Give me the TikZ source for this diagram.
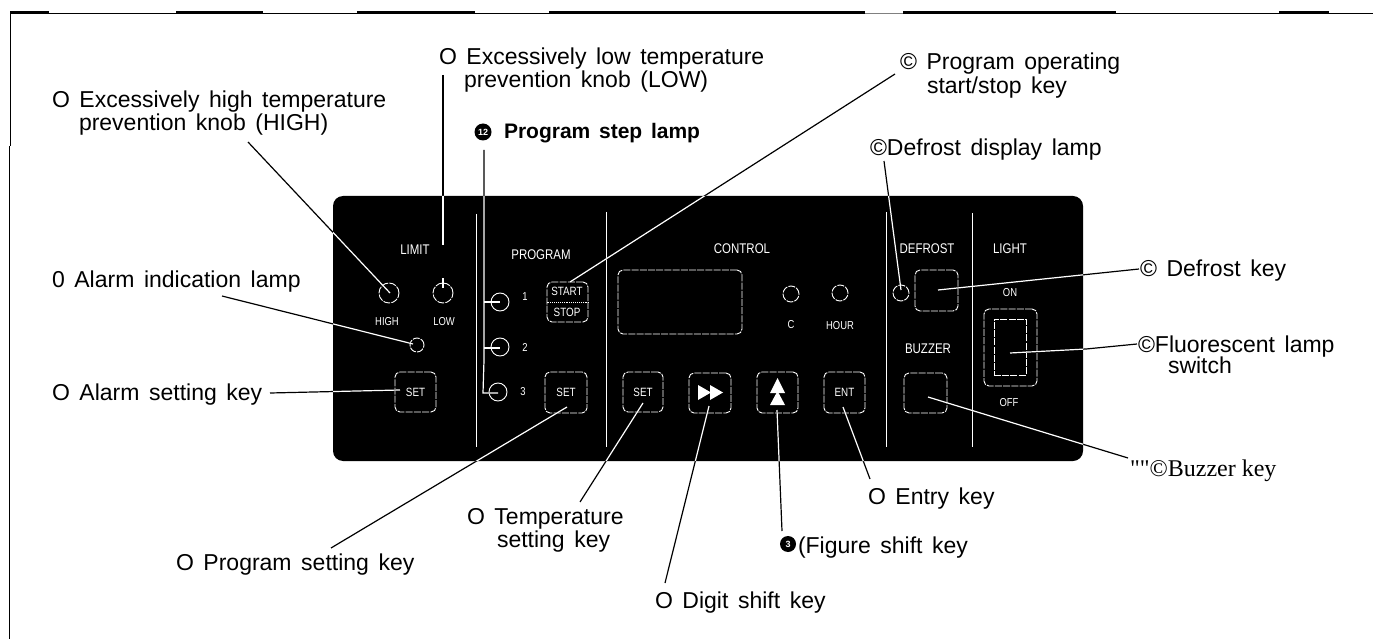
\documentclass[tikz,border=0pt]{standalone}
\usepackage{fontspec}
\setmainfont[WordSpace=1.5]{Liberation Sans}
\newfontfamily\panelfont[FakeStretch=0.82]{Liberation Sans}
\newfontfamily\timesfont{Liberation Serif}
\tikzset{
  lbl/.style={anchor=base west,inner sep=0pt,outer sep=0pt,font=\fontsize{23}{25}\selectfont,text=black},
  wht/.style={draw=white,line width=0.9pt,dash pattern=on 7pt off 1.2pt},
  keybox/.style={wht,rounded corners=5pt},
  lamp/.style={wht,circle,inner sep=0pt,minimum size=#1},
  ptxt/.style={inner sep=0pt,text=white,font=\panelfont\fontsize{14}{14}\selectfont},
  pkey/.style={inner sep=0pt,text=white,font=\panelfont\fontsize{12}{12}\selectfont},
  psmall/.style={inner sep=0pt,text=white,font=\panelfont\fontsize{11.5}{11.5}\selectfont},
  lead/.style={draw=black,line width=1.2pt},
  leadw/.style={draw=white,line width=1.2pt},
  divider/.style={draw=white,line width=0.9pt},
  tri/.style={fill=white,draw=none},
  blob/.style={fill=black,circle,inner sep=0pt,text=white,font=\bfseries\fontsize{9}{9}\selectfont}
}
\newcommand{\leader}[1]{%
  \draw[lead] #1;
  \begin{scope}
    \clip[rounded corners=10pt] (333,196) rectangle (1083,461);
    \draw[leadw] #1;
  \end{scope}}
\begin{document}
\begin{tikzpicture}[x=1pt,y=-1pt]
\useasboundingbox (0,0) rectangle (1373,639);
\fill[white] (0,0) rectangle (1373,639);
% frame
\draw[black,line width=0.9pt] (10,13) -- (865,13) (903,13) -- (1373,13);
\draw[black!50,line width=0.6pt] (865,13) -- (903,13);
\draw[black,line width=2pt] (10,12.5) -- (49,12.5) (176,12.5) -- (263,12.5) (357,12.5) -- (475,12.5) (549,12.5) -- (865,12.5) (903,12.5) -- (1116,12.5) (1279,12.5) -- (1329,12.5);
\draw[black,line width=0.8pt] (10.5,13) -- (10.5,146) (9.5,146) -- (9.5,639);
% panel
\fill[black,rounded corners=10pt] (333,196) rectangle (1083,461);
% dividers
\draw[divider] (476,214) -- (476,447);
\draw[divider] (606,212) -- (606,447);
\draw[divider] (886,212) -- (886,447);
\draw[divider] (972,213) -- (972,447);
% panel captions
\node[ptxt] (tLimit) at (415,250) {LIMIT};
\node[ptxt] (tProg) at (541,255) {PROGRAM};
\node[ptxt] (tControl) at (742,249) {CONTROL};
\node[ptxt] (tDefrost) at (927,249) {DEFROST};
\node[ptxt] (tLight) at (1010,249) {LIGHT};
\node[psmall] (tHigh) at (387,322) {HIGH};
\node[psmall] (tLow) at (444,322) {LOW};
\node[psmall] (tC) at (791,325) {C};
\node[psmall] (tHour) at (840,326) {HOUR};
\node[psmall] (tOn) at (1010,293) {ON};
\node[psmall] (tOff) at (1009,403) {OFF};
\node[ptxt] (tBuzzer) at (928,349) {BUZZER};
\node[psmall] (n1) at (525,297) {1};
\node[psmall] (n2) at (525,347) {2};
\node[psmall] (n3) at (523,392) {3};
% knobs and lamps
\node[lamp=20pt] (knobH) at (389,293) {};
\node[lamp=20pt] (knobL) at (443,293) {};
\node[lamp=14pt] (lampA) at (417,345) {};
\node[lamp=18pt,dash pattern=] (lamp1) at (500,302) {};
\node[lamp=18pt,dash pattern=] (lamp2) at (500,347) {};
\node[lamp=18pt,dash pattern=] (lamp3) at (498,392) {};
\node[lamp=16pt] (lampC) at (791,294) {};
\node[lamp=16pt] (lampH) at (840,293) {};
\node[lamp=16pt] (lampD) at (901,293) {};
% keys
\node[keybox,minimum width=41pt,minimum height=40pt,pkey,draw=white] (keyAlarm) at (415.5,392) {SET};
\node[keybox,minimum width=42pt,minimum height=41pt,pkey,draw=white] (keyProg) at (566,392.5) {SET};
\node[keybox,minimum width=40pt,minimum height=40pt,pkey,draw=white] (keyTemp) at (643,392) {SET};
\node[keybox,minimum width=42pt,minimum height=40pt,draw=white] (keyDigit) at (710,393) {};
\node[keybox,minimum width=41pt,minimum height=41pt,draw=white] (keyFig) at (777.5,392.5) {};
\node[keybox,minimum width=41pt,minimum height=41pt,pkey,draw=white] (keyEnt) at (844.5,392.5) {ENT};
\node[keybox,minimum width=43pt,minimum height=41pt] (keyDef) at (936.5,290.5) {};
\node[keybox,minimum width=43pt,minimum height=40pt] (keyBuz) at (925.5,393) {};
% start/stop key
\node[keybox,minimum width=41pt,minimum height=40pt] (keyStart) at (567.5,302) {};
\draw[white,line width=0.9pt,densely dotted] (keyStart.west) -- (keyStart.east);
\node[pkey] (tStart) at (567,291) {START};
\node[pkey] (tStop) at (567,312) {STOP};
% display
\node[keybox,minimum width=124pt,minimum height=64pt] (disp) at (680,302) {};
% light switch
\node[keybox,minimum width=53pt,minimum height=77pt] (swOuter) at (1010.5,347.5) {};
\node[wht,minimum width=32pt,minimum height=56pt,inner sep=0pt] (swInner) at (1010,347) {};
% key glyphs
\fill[tri] (698,385) -- (711,392.5) -- (698,400) -- cycle;
\fill[tri] (710,385) -- (723,392.5) -- (710,400) -- cycle;
\fill[tri] (777.5,378) -- (785,393) -- (770,393) -- cycle;
\fill[tri] (777.5,391) -- (785,405) -- (770,405) -- cycle;
% labels
\node[lbl] (lHigh) at (52,108) {O Excessively high temperature};
\node[lbl] (lHigh2) at (79,131) {prevention knob (HIGH)};
\node[lbl] (lLow) at (439,65) {O Excessively low temperature};
\node[lbl] (lLow2) at (464,88) {prevention knob (LOW)};
\node[lbl,font=\bfseries\fontsize{21}{22}\selectfont] (lStep) at (504,139) {Program step lamp};
\node[blob,minimum size=17pt] (lStepDot) at (483,132) {12};
\node[lbl] (lStart) at (900,70) {© Program operating};
\node[lbl] (lStart2) at (927,94) {start/stop key};
\node[lbl] (lDefl) at (870,156) {©Defrost display lamp};
\node[lbl] (lAlarm) at (52,287) {0 Alarm indication lamp};
\node[lbl] (lAset) at (52,400) {O Alarm setting key};
\node[lbl] (lDefk) at (1140,276) {© Defrost key};
\node[lbl] (lFluo) at (1138,352) {©Fluorescent lamp};
\node[lbl] (lFluo2) at (1168,373) {switch};
\node[lbl,font=\timesfont\fontsize{24}{25}\selectfont] (lBuz) at (1130,476) {""©Buzzer key};
\node[lbl] (lEnt) at (868,504) {O Entry key};
\node[blob,minimum size=16pt] (lFigDot) at (788,544) {3};
\node[lbl] (lFig) at (798,553) {(Figure shift key};
\node[lbl] (lDig) at (655,608) {O Digit shift key};
\node[lbl] (lTemp) at (467,524) {O Temperature};
\node[lbl] (lTemp2) at (497,547) {setting key};
\node[lbl] (lProg) at (176,570) {O Program setting key};
% connector ends
\coordinate (cHighA) at (248,142); \coordinate (cHighB) at (390,293);
\coordinate (cLowA) at (443,75); \coordinate (cLowG) at (443,245);
\coordinate (cLowH) at (443,278); \coordinate (cLowB) at (443,288);
\coordinate (cStepA) at (484,150); \coordinate (cStepB) at (484,360);
\coordinate (cStepC) at (483,393); \coordinate (cStep1) at (500,302);
\coordinate (cStep2) at (500,348); \coordinate (cStep3) at (498,393);
\coordinate (cStepM1) at (484,302); \coordinate (cStepM2) at (484,348);
\coordinate (cAlA) at (222,296); \coordinate (cAlB) at (413,344);
\coordinate (cAsA) at (270,393); \coordinate (cAsB) at (400,390);
\coordinate (cPrA) at (331,548); \coordinate (cPrB) at (567,407);
\coordinate (cTeA) at (580,502); \coordinate (cTeB) at (643,403);
\coordinate (cDiA) at (665,583); \coordinate (cDiB) at (709,406);
\coordinate (cFiA) at (782,531); \coordinate (cFiB) at (777,410);
\coordinate (cEnA) at (870,479); \coordinate (cEnB) at (843,407);
\coordinate (cStA) at (895,74); \coordinate (cStB) at (570,282);
\coordinate (cDlA) at (884,161); \coordinate (cDlB) at (901,290);
\coordinate (cDkA) at (1139,269); \coordinate (cDkB) at (938,290);
\coordinate (cFlA) at (1137,344); \coordinate (cFlM) at (1086,349); \coordinate (cFlB) at (1010,353);
\coordinate (cBuA) at (1128,458); \coordinate (cBuB) at (928,397);
% connectors
\leader{(cHighA) -- (cHighB)}
\leader{(cLowA) -- (cLowG)}
\leader{(cLowH) -- (cLowB)}
\leader{(cStepA) -- (cStepB) -- (cStepC) -- (cStep3)}
\leader{(cStepM1) -- (cStep1)}
\leader{(cStepM2) -- (cStep2)}
\leader{(cAlA) -- (cAlB)}
\leader{(cAsA) -- (cAsB)}
\leader{(cPrA) -- (cPrB)}
\leader{(cTeA) -- (cTeB)}
\leader{(cDiA) -- (cDiB)}
\leader{(cFiA) -- (cFiB)}
\leader{(cEnA) -- (cEnB)}
\leader{(cStA) -- (cStB)}
\leader{(cDlA) -- (cDlB)}
\leader{(cDkA) -- (cDkB)}
\leader{(cFlA) -- (cFlM) -- (cFlB)}
\leader{(cBuA) -- (cBuB)}
\end{tikzpicture}
\end{document}
